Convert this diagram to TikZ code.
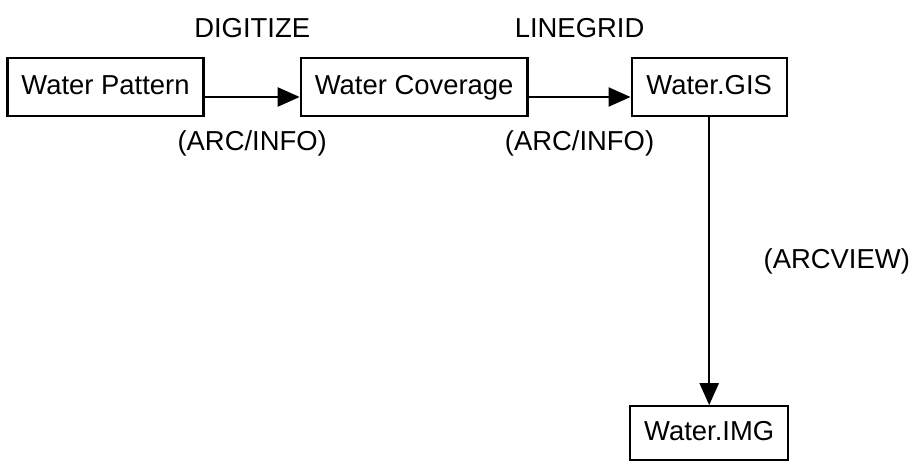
\documentclass[tikz,border=0pt]{standalone}
\usepackage{fontspec}
\setmainfont{Liberation Sans}
\usepackage{tikz}
\usetikzlibrary{arrows.meta,positioning}

\begin{document}
\begin{tikzpicture}[every node/.style={font=\fontsize{15.6}{18}\selectfont}, box/.style={draw,line width=1.3pt,inner xsep=2.8mm,text height=11.5pt,text depth=3.3pt,minimum height=11.6mm,minimum width=31mm}, arrow/.style={-{Triangle[length=4.4mm,width=3.8mm]},line width=1.3pt}]
\useasboundingbox (0,0) rectangle (18.3,-9.24);
\node[box] (pattern) at (2.11,-1.74) {Water Pattern};
\node[box,right=19mm of pattern] (coverage) {Water Coverage};
\node[box,right=20.4mm of coverage] (gis) {Water.GIS};
\node[box,minimum height=10.8mm,below=57.6mm of gis] (img) {Water.IMG};
\draw[arrow] ([yshift=-2mm]pattern.east) -- ([yshift=-2mm]coverage.west)
  node[midway,yshift=13.8mm] (digitize) {DIGITIZE}
  node[midway,yshift=-9.2mm] (arcinfoa) {(ARC/INFO)};
\draw[arrow] ([yshift=-2mm]coverage.east) -- ([yshift=-2mm]gis.west)
  node[midway,yshift=13.8mm] (linegrid) {LINEGRID}
  node[midway,yshift=-9.2mm] (arcinfob) {(ARC/INFO)};
\draw[arrow] (gis) -- (img)
  node[midway,right=9.5mm] (arcview) {(ARCVIEW)};
\end{tikzpicture}
\end{document}
